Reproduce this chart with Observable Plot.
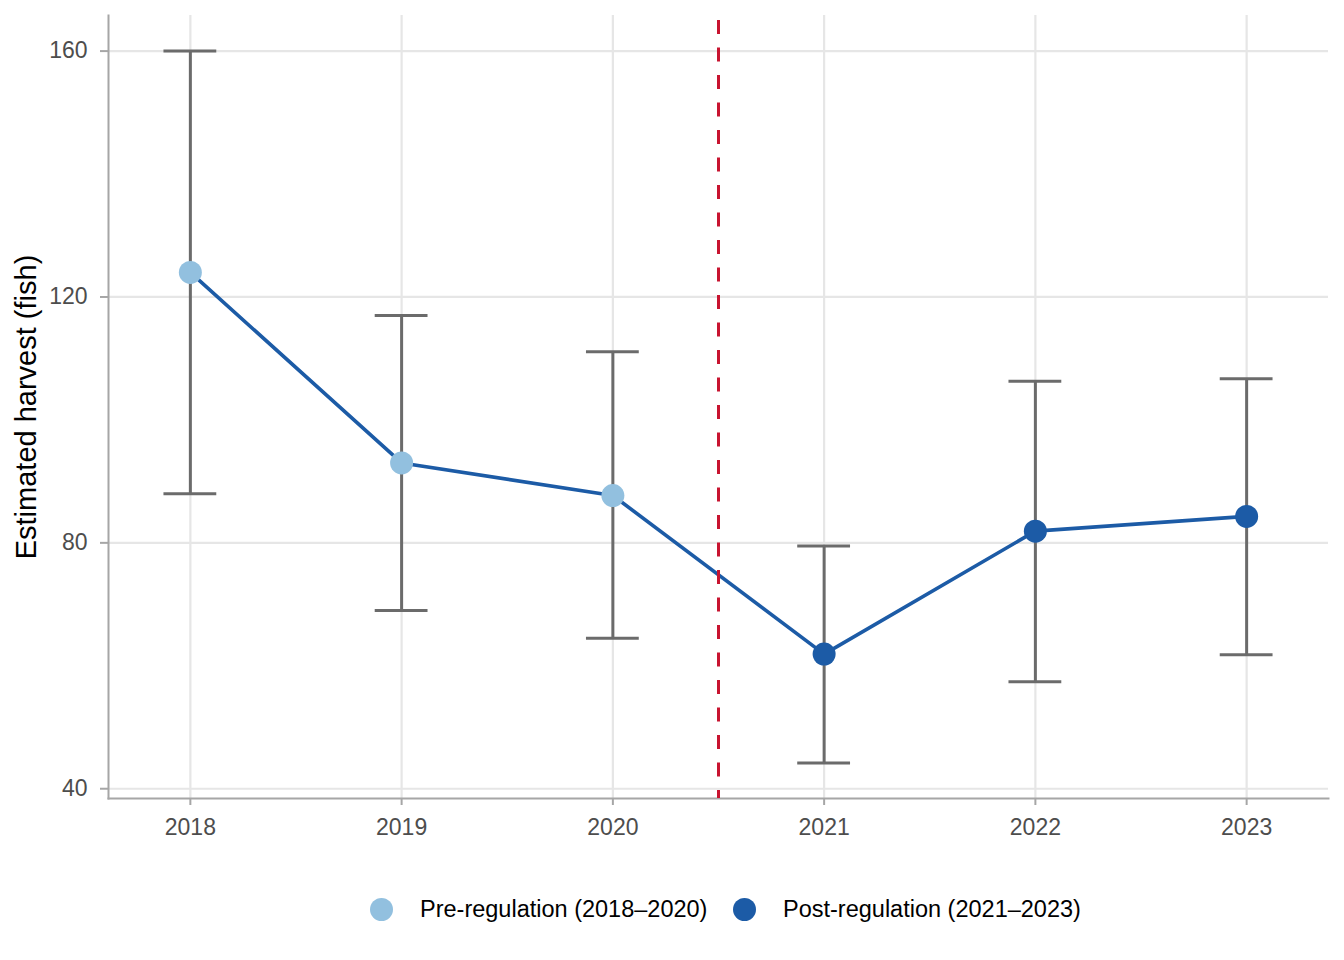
<!DOCTYPE html>
<html>
<head>
<meta charset="utf-8">
<script src="https://cdn.jsdelivr.net/npm/d3@7"></script>
<script src="https://cdn.jsdelivr.net/npm/@observablehq/plot@0.6"></script>
<style>
  html, body { margin: 0; padding: 0; background: #fff; }
  #chart { width: 1344px; }
  .legend { position: relative; height: 90px; font-family: "Liberation Sans", Arial, sans-serif; font-size: 23.5px; color: #000; }
  .legend .item { position: absolute; top: 0; height: 78px; display: flex; align-items: center; }
  .legend .sw { width: 23px; height: 23px; border-radius: 50%; margin-right: 27px; }
</style>
</head>
<body>
<div id="chart"></div>
<script>
const years = [2018, 2019, 2020, 2021, 2022, 2023];
const estimate = [124, 93, 87.7, 61.9, 81.9, 84.3];
const lower = [88, 69, 64.5, 44.2, 57.4, 61.8];
const upper = [160, 117, 111.1, 79.5, 106.3, 106.7];
const period = ["pre", "pre", "pre", "post", "post", "post"];
const periodKeys = ["pre", "post"];
const periodLabels = ["Pre-regulation (2018–2020)", "Post-regulation (2021–2023)"];
const periodColors = ["#92c0df", "#1c5ba6"];
const regulationBreak = [2020.5];
const yTicks = [40, 80, 120, 160];
const capHalfWidth = 0.125;

const data = years.map((y, i) => ({year: y, est: estimate[i], lo: lower[i], hi: upper[i], period: period[i]}));

const plot = Plot.plot({
  width: 1344,
  height: 870,
  marginLeft: 108,
  marginRight: 16,
  marginTop: 15,
  marginBottom: 72,
  style: {fontFamily: "Liberation Sans, Arial, sans-serif", fontSize: "23px", background: "#fff"},
  x: {domain: [2017.6125, 2023.3875]},
  y: {domain: [38.41, 165.79]},
  color: {domain: periodKeys, range: periodColors},
  marks: [
    Plot.gridX(years, {stroke: "#e6e6e6", strokeOpacity: 1, strokeWidth: 2.2}),
    Plot.gridY(yTicks, {stroke: "#e6e6e6", strokeOpacity: 1, strokeWidth: 2.2}),
    Plot.frame({anchor: "left", stroke: "#a6a6a6", strokeWidth: 2}),
    Plot.frame({anchor: "bottom", stroke: "#a6a6a6", strokeWidth: 2}),
    Plot.axisX({ticks: years, tickFormat: d => String(d), tickSize: 7, tickPadding: 13, stroke: "#a6a6a6", strokeWidth: 2, fill: "#4d4d4d", label: null}),
    Plot.axisY({ticks: yTicks, tickSize: 8, tickPadding: 13, stroke: "#a6a6a6", strokeWidth: 2, fill: "#4d4d4d", label: null}),
    Plot.text(["Estimated harvest (fish)"], {frameAnchor: "left", rotate: -90, dx: -82, fontSize: 29, fill: "#000", textAnchor: "middle", lineAnchor: "middle"}),
    Plot.ruleX(data, {x: "year", y1: "lo", y2: "hi", stroke: "#6b6b6b", strokeWidth: 3}),
    Plot.ruleY(data, {y: "hi", x1: d => d.year - capHalfWidth, x2: d => d.year + capHalfWidth, stroke: "#6b6b6b", strokeWidth: 3}),
    Plot.ruleY(data, {y: "lo", x1: d => d.year - capHalfWidth, x2: d => d.year + capHalfWidth, stroke: "#6b6b6b", strokeWidth: 3}),
    Plot.line(data, {x: "year", y: "est", stroke: periodColors[1], strokeWidth: 3.6}),
    Plot.ruleX(regulationBreak, {stroke: "#c81430", strokeWidth: 3, strokeDasharray: "14,13.5", strokeDashoffset: -5}),
    Plot.dot(data, {x: "year", y: "est", fill: "period", r: 11.5, stroke: "none"})
  ]
});
document.getElementById("chart").appendChild(plot);

const legend = document.createElement("div");
legend.className = "legend";
const lefts = [370, 733];
periodKeys.forEach((k, i) => {
  const item = document.createElement("div");
  item.className = "item";
  item.style.left = lefts[i] + "px";
  const sw = document.createElement("span");
  sw.className = "sw";
  sw.style.background = periodColors[i];
  const label = document.createElement("span");
  label.textContent = periodLabels[i];
  item.appendChild(sw);
  item.appendChild(label);
  legend.appendChild(item);
});
document.getElementById("chart").appendChild(legend);
</script>
</body>
</html>
